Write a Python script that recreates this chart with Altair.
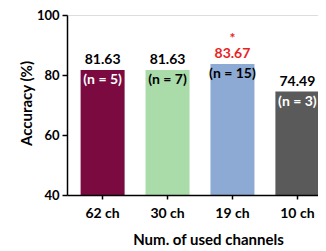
import altair as alt
import pandas as pd

channels = ["62 ch", "30 ch", "19 ch", "10 ch"]
accuracy = [81.63, 81.63, 83.67, 74.49]
value_labels = ["81.63", "81.63", "83.67", "74.49"]
n_labels = ["(n = 5)", "(n = 7)", "(n = 15)", "(n = 3)"]
bar_colors = ["#7B0A40", "#A9DCA9", "#8CAAD3", "#5A5A5A"]
value_colors = ["#000000", "#000000", "#E8231F", "#000000"]
n_colors = ["#FFFFFF", "#000000", "#000000", "#FFFFFF"]
marks = ["", "", "*", ""]
baseline_value = 40

df = pd.DataFrame({
    "ch": channels,
    "acc": accuracy,
    "val": value_labels,
    "n": n_labels,
    "bc": bar_colors,
    "vc": value_colors,
    "nc": n_colors,
    "sig": marks,
})

FONT = "Lato"

x = alt.X("ch:N", sort=channels, title="Num. of used channels",
          scale=alt.Scale(paddingInner=0.333, paddingOuter=0.215),
          axis=alt.Axis(labelAngle=0, labelFont=FONT, labelFontSize=14, labelFontWeight="bold",
                        labelColor="black", titleFont=FONT, titleFontSize=15, titleFontWeight="bold",
                        titleColor="black", domainColor="black", domainWidth=1.5, tickColor="black",
                        tickSize=4, tickWidth=1.5, labelPadding=7, titlePadding=12, grid=False,
                        zindex=1, titleX=141))
y = alt.Y("acc:Q", title="Accuracy (%)",
          scale=alt.Scale(domain=[40, 100], nice=False, zero=False),
          axis=alt.Axis(values=[40, 60, 80, 100], labelFont=FONT, labelFontSize=13,
                        labelFontWeight="bold", labelColor="black", titleFont=FONT,
                        titleFontSize=15, titleFontWeight="bold", titleColor="black",
                        domainColor="black", domainWidth=1.5, tickColor="black", tickSize=5,
                        tickWidth=1.5, labelPadding=3, grid=False, zindex=1,
                        titleX=-41, titleY=88, titleBaseline="middle"))

base = alt.Chart(df)

bars = base.mark_bar(size=44).encode(x=x, y=y, y2=alt.datum(baseline_value),
                                     color=alt.Color("bc:N", scale=None))

vals = base.mark_text(font=FONT, fontSize=14, fontWeight="bold", baseline="middle", dy=-10).encode(
    x=alt.X("ch:N", sort=channels), y="acc:Q", text="val:N", color=alt.Color("vc:N", scale=None))

ns = base.mark_text(font=FONT, fontSize=14, fontWeight="bold", baseline="middle", dy=10).encode(
    x=alt.X("ch:N", sort=channels), y="acc:Q", text="n:N", color=alt.Color("nc:N", scale=None))

sig = base.mark_text(font=FONT, fontSize=14, fontWeight="bold", baseline="middle", dy=-25,
                     color="#E8231F").encode(
    x=alt.X("ch:N", sort=channels), y="acc:Q", text="sig:N")

chart = alt.layer(bars, vals, ns, sig).properties(
    width=266, height=180,
    autosize=alt.AutoSizeParams(type="none"),
    padding={"left": 59, "top": 7, "right": -15, "bottom": 54},
).configure_view(stroke=None).configure(background="white")

chart.save("out.html", embed_options={"renderer": "svg", "actions": False})
